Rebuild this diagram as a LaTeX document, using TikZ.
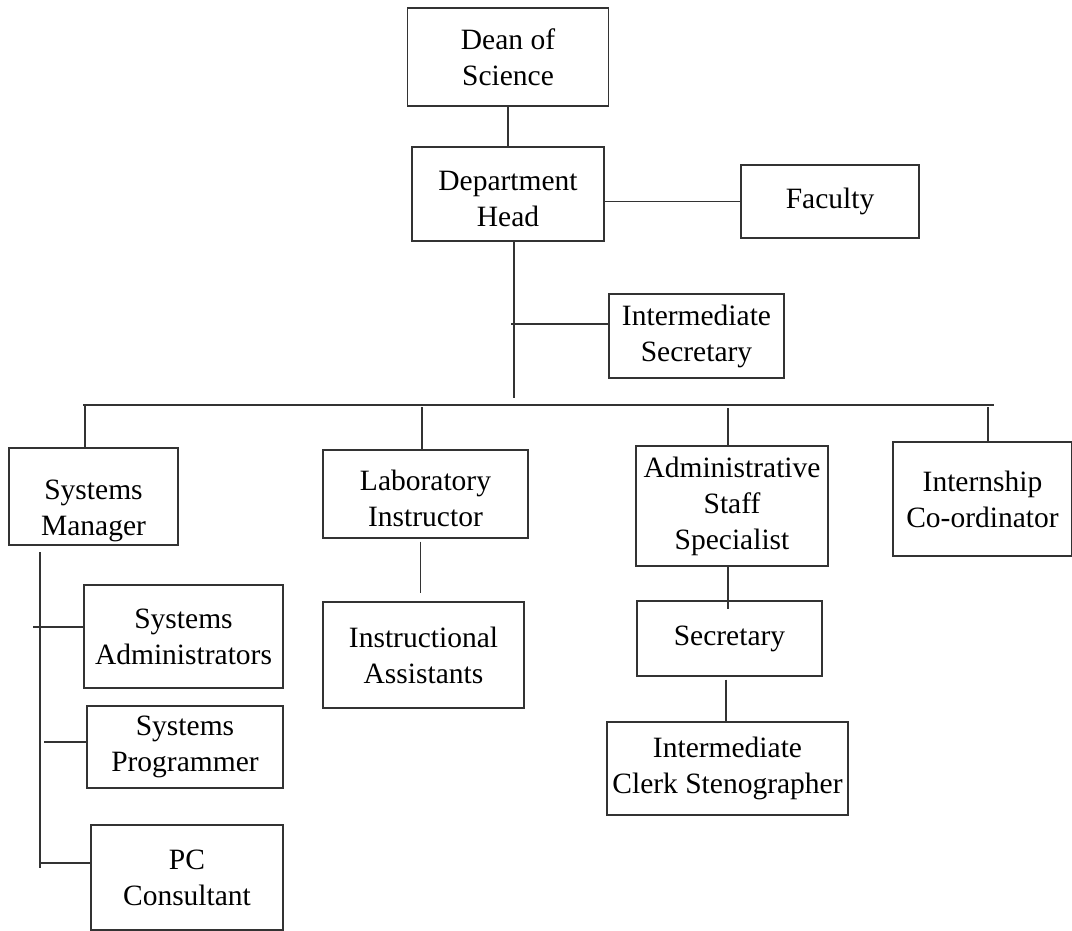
\documentclass[tikz,border=0pt]{standalone}
\usepackage{fontspec}
\setmainfont{Liberation Serif}
\newcommand{\lowerby}[1]{\rule{0pt}{#1}}
\begin{document}
\begin{tikzpicture}[x=1pt,y=-1pt,
	post/.style={draw=black!80, line width=1.1pt, align=center, inner sep=0pt, font=\fontsize{29.5}{36}\selectfont},
	link/.style={draw=black!80, line width=1.1pt}]
\useasboundingbox (0,0) rectangle (1072,930);
	\node[post, minimum width=201pt, minimum height=98pt] (dean) at (508,57) {Dean of\\Science};
	\node[post, minimum width=192pt, minimum height=94pt] (head) at (508,194) {\lowerby{30pt}Department\\Head};
	\node[post, minimum width=178pt, minimum height=73pt] (faculty) at (830,201.5) {Faculty};
	\node[post, minimum width=175pt, minimum height=84pt] (isec) at (696.5,336) {Intermediate\\Secretary};
	\node[post, minimum width=169pt, minimum height=97pt] (sysman) at (93.5,496.5) {\lowerby{48pt}Systems\\Manager};
	\node[post, minimum width=205pt, minimum height=88pt] (labins) at (425.5,494) {\lowerby{30pt}Laboratory\\Instructor};
	\node[post, minimum width=192pt, minimum height=120pt] (admin) at (732,506) {Administrative\\Staff\\Specialist};
	\node[post, minimum width=179pt, minimum height=114pt] (intern) at (982.5,499) {Internship\\Co-ordinator};
	\node[post, minimum width=199pt, minimum height=103pt] (sysadm) at (183.5,636.5) {Systems\\Administrators};
	\node[post, minimum width=196pt, minimum height=82pt] (sysprog) at (185,747) {Systems\\Programmer};
	\node[post, minimum width=192pt, minimum height=105pt] (pccons) at (187,877.5) {PC\\Consultant};
	\node[post, minimum width=201pt, minimum height=106pt] (insasst) at (423.5,655) {Instructional\\Assistants};
	\node[post, minimum width=185pt, minimum height=75pt] (sec) at (729.5,638.5) {Secretary};
	\node[post, minimum width=241pt, minimum height=93pt] (clerk) at (727.5,768.5) {Intermediate\\Clerk Stenographer};
	\coordinate (hub) at (514,398);
	\coordinate (busl) at (83,405);
	\coordinate (busr) at (994,405);
	\coordinate (d1) at (85,405);
	\coordinate (d2) at (422,407);
	\coordinate (d3) at (728,408);
	\coordinate (d4) at (988,407);
	\coordinate (t0) at (511,324);
	\coordinate (smtop) at (40,552);
	\coordinate (smbot) at (40,868);
	\coordinate (t1) at (33,627);
	\coordinate (t2) at (44,742);
	\coordinate (t3) at (39,863);
\draw[link] (dean) -- (head);
\draw[link] (head.east |- faculty.west) -- (faculty.west);
\draw[link] (head.south -| hub) -- (hub);
\draw[link] (t0) -- (t0 -| isec.west);
\draw[link] (busl) -- (busr);
\draw[link] (d1) -- (d1 |- sysman.north);
\draw[link] (d2) -- (d2 |- labins.north);
\draw[link] (d3) -- (d3 |- admin.north);
\draw[link] (d4) -- (d4 |- intern.north);
\draw[link, shorten <=3pt, shorten >=8pt] ([xshift=-5pt]labins.south) -- ([xshift=-5pt]labins.south |- insasst.north);
\draw[link, shorten >=-9pt] ([xshift=-4pt]admin.south) -- ([xshift=-4pt]admin.south |- sec.north);
\draw[link, shorten <=3pt] ([xshift=-3.5pt]sec.south) -- ([xshift=-3.5pt]sec.south |- clerk.north);
\draw[link] (smtop) -- (smbot);
\draw[link] (t1) -- (t1 -| sysadm.west);
\draw[link] (t2) -- (t2 -| sysprog.west);
\draw[link] (t3) -- (t3 -| pccons.west);
\end{tikzpicture}
\end{document}
